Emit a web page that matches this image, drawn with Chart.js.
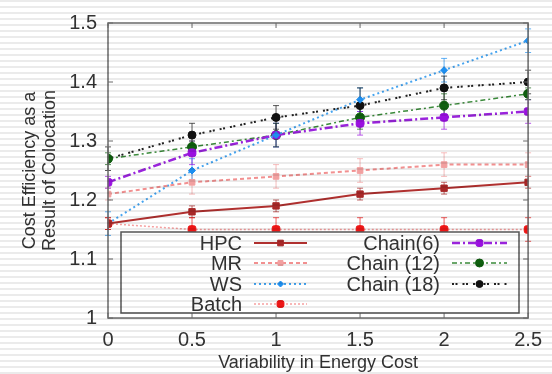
<!DOCTYPE html>
<html>
<head>
<meta charset="utf-8">
<script src="https://cdn.jsdelivr.net/npm/chart.js@4.4.0/dist/chart.umd.min.js"></script>
<style>
  html, body { margin: 0; padding: 0; background: #fff; }
  #wrap { position: relative; width: 552px; height: 374px; }
  #stripes {
    position: absolute; left: 0; top: 0; width: 552px; height: 374px; pointer-events: none;
    background: repeating-linear-gradient(to bottom, rgba(0,0,0,0.08) 0px, rgba(0,0,0,0.08) 2px, rgba(0,0,0,0) 2px, rgba(0,0,0,0) 6px);
  }
</style>
</head>
<body>
<div id="wrap">
  <canvas id="myChart" width="552" height="374"></canvas>
  <div id="stripes"></div>
</div>
<script>
//!Data
var xValues = [0, 0.5, 1, 1.5, 2, 2.5];
var xTickLabels = ["0", "0.5", "1", "1.5", "2", "2.5"];
var yTickLabels = ["1", "1.1", "1.2", "1.3", "1.4", "1.5"];

var hpc = [1.16, 1.18, 1.19, 1.21, 1.22, 1.23];
var mr = [1.21, 1.23, 1.24, 1.25, 1.26, 1.26];
var ws = [1.16, 1.25, 1.31, 1.37, 1.42, 1.47];
var batch = [1.16, 1.15, 1.15, 1.15, 1.15, 1.15];
var chain6 = [1.23, 1.28, 1.31, 1.33, 1.34, 1.35];
var chain12 = [1.27, 1.29, 1.31, 1.34, 1.36, 1.38];
var chain18 = [1.27, 1.31, 1.34, 1.36, 1.39, 1.40];

var hpcErr = [0.01, 0.01, 0.01, 0.01, 0.01, 0.01];
var mrErr = [0.01, 0.02, 0.02, 0.02, 0.02, 0.02];
var wsErr = [0.02, 0.02, 0.02, 0.02, 0.02, 0.02];
var batchErr = [0.01, 0.02, 0.02, 0.02, 0.02, 0.02];
var chain6Err = [0.01, 0.02, 0.02, 0.02, 0.02, 0.02];
var chain12Err = [0.01, 0.01, 0.02, 0.02, 0.02, 0.01];
var chain18Err = [0.02, 0.02, 0.02, 0.03, 0.02, 0.02];

function pts(ys) {
  return xValues.map(function(x, i) { return { x: x, y: ys[i] }; });
}

function series(label, ys, errs, color, markColor, width, dash, style, radius, col) {
  return {
    label: label,
    data: pts(ys),
    errors: errs,
    legendCol: col,
    borderColor: color,
    borderWidth: width,
    borderDash: dash,
    pointStyle: style,
    pointRadius: radius,
    pointBackgroundColor: markColor,
    pointBorderColor: markColor,
    pointBorderWidth: 1,
    fill: false,
    tension: 0
  };
}

var datasets = [
  series("HPC", hpc, hpcErr, "#b0302f", "#a82828", 2, [], "rect", 4.5, 0),
  series("MR", mr, mrErr, "#f29090", "#f2a0a0", 2, [4, 3], "rect", 4, 0),
  series("WS", ws, wsErr, "#45a4f0", "#1e8ff0", 2, [2, 3], "rectRot", 3.5, 0),
  series("Batch", batch, batchErr, "#f6a0a0", "#ee1515", 1.5, [2, 2], "rectRounded", 4.5, 0),
  series("Chain(6)", chain6, chain6Err, "#9a24dc", "#9a10e0", 2.5, [8, 3, 2, 3], "rectRounded", 4.5, 1),
  series("Chain (12)", chain12, chain12Err, "#3a8a3a", "#0f5f0f", 1.5, [5, 3, 2, 3], "circle", 4.5, 1),
  series("Chain (18)", chain18, chain18Err, "#222222", "#111111", 2, [2, 1.5, 2, 5], "circle", 4, 1)
];

//!Plugins
var framePlugin = {
  id: "frame",
  beforeDraw: function(chart) {
    var c = chart.ctx, a = chart.chartArea;
    c.save();
    c.fillStyle = "#ffffff";
    c.fillRect(a.left, a.top, a.right - a.left, a.bottom - a.top);
    c.restore();
  },
  beforeDatasetsDraw: function(chart) {
    var c = chart.ctx;
    var xs = chart.scales.x, ys = chart.scales.y;
    c.save();
    // error bars
    chart.data.datasets.forEach(function(ds) {
      c.strokeStyle = ds.pointBackgroundColor;
      c.globalAlpha = 0.7;
      c.lineWidth = 1;
      c.setLineDash([]);
      ds.data.forEach(function(p, i) {
        var e = ds.errors[i];
        var px = xs.getPixelForValue(p.x);
        var top = ys.getPixelForValue(p.y + e), bot = ys.getPixelForValue(p.y - e);
        c.beginPath();
        c.moveTo(px, top); c.lineTo(px, bot);
        c.moveTo(px - 3, top); c.lineTo(px + 3, top);
        c.moveTo(px - 3, bot); c.lineTo(px + 3, bot);
        c.stroke();
      });
    });
    c.restore();
  },
  afterDraw: function(chart) {
    var c = chart.ctx, a = chart.chartArea;
    var xs = chart.scales.x, ys = chart.scales.y;
    c.save();
    // frame + inward ticks
    c.strokeStyle = "#6a6a6a";
    c.lineWidth = 1.5;
    c.strokeRect(a.left, a.top, a.right - a.left, a.bottom - a.top);
    c.lineWidth = 1;
    xValues.forEach(function(v) {
      var px = xs.getPixelForValue(v);
      c.beginPath();
      c.moveTo(px, a.top); c.lineTo(px, a.top + 5);
      c.moveTo(px, a.bottom); c.lineTo(px, a.bottom - 5);
      c.stroke();
    });
    yTickLabels.forEach(function(t) {
      var py = ys.getPixelForValue(parseFloat(t));
      c.beginPath();
      c.moveTo(a.left, py); c.lineTo(a.left + 5, py);
      c.moveTo(a.right, py); c.lineTo(a.right - 5, py);
      c.stroke();
    });

    // legend box
    var box = { l: 121, t: 232, r: 519, b: 313 };
    c.fillStyle = "#ffffff";
    c.fillRect(box.l, box.t, box.r - box.l, box.b - box.t);
    c.strokeStyle = "#555555";
    c.lineWidth = 1.5;
    c.strokeRect(box.l, box.t, box.r - box.l, box.b - box.t);
    var rowY = [243, 263, 284, 304];
    var cols = [{ textR: 242, s0: 254, s1: 307 }, { textR: 440, s0: 452, s1: 507 }];
    var rows = [0, 0];
    c.font = "20px 'Liberation Sans', Arial, sans-serif";
    c.textAlign = "right";
    c.textBaseline = "middle";
    chart.data.datasets.forEach(function(ds) {
      var col = cols[ds.legendCol];
      var y = rowY[rows[ds.legendCol]++];
      c.fillStyle = "#333333";
      c.fillText(ds.label, col.textR, y + 1);
      c.strokeStyle = ds.borderColor;
      c.lineWidth = ds.borderWidth;
      c.setLineDash(ds.borderDash);
      c.beginPath();
      c.moveTo(col.s0, y); c.lineTo(col.s1, y);
      c.stroke();
      c.setLineDash([]);
      c.fillStyle = ds.pointBackgroundColor;
      c.strokeStyle = ds.pointBorderColor;
      c.lineWidth = 1;
      Chart.helpers.drawPoint(c, { pointStyle: ds.pointStyle, radius: ds.pointRadius - 0.5, rotation: 0, borderWidth: 1 }, (col.s0 + col.s1) / 2, y);
    });
    c.restore();
  }
};

//!Chart
var ctx = document.getElementById("myChart").getContext("2d");
var myChart = new Chart(ctx, {
  type: "line",
  data: { datasets: datasets },
  plugins: [framePlugin],
  options: {
    responsive: false,
    animation: false,
    layout: { padding: { top: 17, right: 21, bottom: 0, left: 0 } },
    plugins: { legend: { display: false }, tooltip: { enabled: false } },
    scales: {
      x: {
        type: "linear",
        min: 0,
        max: 2.5,
        afterFit: function(s) { s.height = 56; },
        afterBuildTicks: function(s) { s.ticks = xValues.map(function(v) { return { value: v }; }); },
        grid: { display: false, drawTicks: false },
        border: { display: false },
        ticks: {
          padding: 10,
          color: "#333333",
          font: { family: "'Liberation Sans', Arial, sans-serif", size: 20 },
          callback: function(v, i) { return xTickLabels[i]; }
        },
        title: {
          display: true,
          text: "Variability in Energy Cost",
          color: "#333333",
          padding: { top: 0, bottom: 1 },
          font: { family: "'Liberation Sans', Arial, sans-serif", size: 18, lineHeight: 1.1 }
        }
      },
      y: {
        type: "linear",
        min: 1,
        max: 1.5,
        afterFit: function(s) { s.width = 108; },
        afterBuildTicks: function(s) { s.ticks = yTickLabels.map(function(t) { return { value: parseFloat(t) }; }); },
        grid: { display: false, drawTicks: false },
        border: { display: false },
        ticks: {
          padding: 11,
          color: "#333333",
          font: { family: "'Liberation Sans', Arial, sans-serif", size: 20 },
          callback: function(v, i) { return yTickLabels[i]; }
        },
        title: {
          display: true,
          text: ["Cost Efficiency as a", "Result of Colocation"],
          color: "#333333",
          padding: { top: 20, bottom: 0 },
          font: { family: "'Liberation Sans', Arial, sans-serif", size: 18, lineHeight: 1.1 }
        }
      }
    }
  }
});
</script>
</body>
</html>
